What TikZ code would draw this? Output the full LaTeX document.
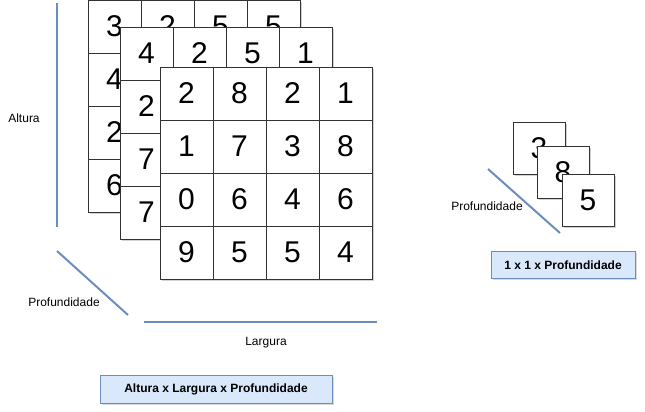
\documentclass[tikz,border=0pt]{standalone}
\usepackage{fontspec}
\setmainfont{Liberation Sans}
\usepackage{xcolor}
\usepackage{tikz}
\usetikzlibrary{positioning}
\definecolor{axisblue}{HTML}{6C8EBF}
\definecolor{boxfill}{HTML}{DAE8FC}

\tikzset{
  cell/.style = {draw=black!80, fill=white, minimum size=53pt, inner sep=0pt,
                 font=\fontsize{30}{30}\selectfont},
  tile/.style = {draw=black!80, fill=white, minimum size=52pt, inner sep=0pt,
                 font=\fontsize{30}{30}\selectfont},
  axis/.style = {draw=axisblue, line width=2pt},
  axislabel/.style = {font=\fontsize{12}{14}\selectfont},
  caption/.style = {draw=axisblue, fill=boxfill, inner sep=0pt,
                    font=\fontsize{12}{14}\selectfont\bfseries}
}

\begin{document}
\begin{tikzpicture}[x=1pt, y=-1pt]
  \useasboundingbox (0,0) rectangle (645,412);
  % back grid
  \fill[gray!35] (90,2) rectangle (302,214);
  \foreach \r/\row in {1/{3,2,5,5}, 2/{4,,,}, 3/{2,,,}, 4/{6,,,}}
    \foreach \v [count=\c] in \row
      \node[cell] (b\r\c) at (88+53*\c-26.5, 53*\r-26.5) {\v};
  % middle grid
  \fill[gray!35] (122,29) rectangle (334,241);
  \foreach \r/\row in {1/{4,2,5,1}, 2/{2,,,}, 3/{7,,,}, 4/{7,,,}}
    \foreach \v [count=\c] in \row
      \node[cell] (m\r\c) at (120+53*\c-26.5, 27+53*\r-26.5) {\v};
  % front grid
  \fill[gray!35] (162,69) rectangle (374,281);
  \foreach \r/\row in {1/{2,8,2,1}, 2/{1,7,3,8}, 3/{0,6,4,6}, 4/{9,5,5,4}}
    \foreach \v [count=\c] in \row
      \node[cell] (f\r\c) at (160+53*\c-26.5, 67+53*\r-26.5) {\v};

  % axes
  \draw[axis] (57,3) -- (57,227);
  \node[axislabel] (altura) at (24,118) {Altura};
  \draw[axis] (57,251) -- (128,315);
  \node[axislabel] (prof) at (64,302) {Profundidade};
  \draw[axis] (144,322) -- (377,322);
  \node[axislabel] (largura) at (266,343) {Largura};
  \fill[gray!30] (102,377) rectangle (334,405);
  \node[caption, minimum width=232pt, minimum height=28pt] (dims) at (216,389)
    {Altura x Largura x Profundidade};

  % 1 x 1 x depth
  \draw[axis] (488,169) -- (560,233);
  \node[axislabel] (profsmall) at (487,206) {Profundidade};
  \foreach \v/\px/\py [count=\k] in {3/539/148, 8/563/172, 5/588/200} {
    \fill[gray!35] (\px-24,\py-24) rectangle (\px+28,\py+28);
    \node[tile] (t\k) at (\px,\py) {\v};
  }
  \fill[gray!30] (493,253) rectangle (637,280);
  \node[caption, minimum width=144pt, minimum height=27pt] (unit) at (563,265)
    {1 x 1 x Profundidade};
\end{tikzpicture}
\end{document}
